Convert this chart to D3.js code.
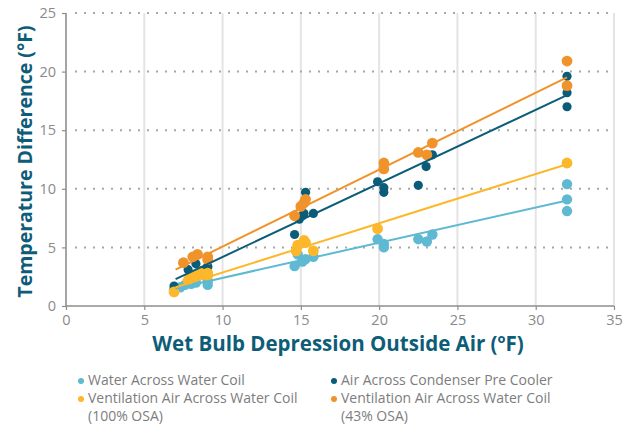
<!DOCTYPE html>
<html>
<head>
<meta charset="utf-8">
<script src="https://cdn.jsdelivr.net/npm/d3@7"></script>
<style>
  body { margin: 0; background: #fff; }
  svg { display: block; font-family: "Open Sans", "Lato", sans-serif; }
</style>
</head>
<body>
<svg id="chart" width="629" height="428"></svg>
<script>
// series names
const seriesNames = [
  "Water Across Water Coil",
  "Air Across Condenser Pre Cooler",
  "Ventilation Air Across Water Coil|(100% OSA)",
  "Ventilation Air Across Water Coil|(43% OSA)"
];
const seriesColors = ["#5fb9d2", "#0b5c79", "#fdb72a", "#f0932b"];

// measured points (x = wet bulb depression, y = temperature difference)
const waterX = [6.9, 7.3, 7.6, 8.0, 8.3, 9.05, 9.05, 14.6, 14.8, 15.1, 15.3, 15.8, 19.9, 20.3, 20.3, 22.5, 23.05, 23.4, 32, 32, 32];
const waterY = [1.4, 1.6, 1.8, 1.9, 2.0, 1.8, 2.1, 3.4, 4.4, 3.8, 4.0, 4.2, 5.7, 5.3, 5.0, 5.7, 5.5, 6.1, 10.4, 9.1, 8.1];

const condX = [6.9, 7.8, 8.3, 8.7, 9.05, 9.05, 14.6, 14.9, 15.1, 15.2, 15.3, 15.8, 19.9, 20.3, 20.3, 22.5, 23.0, 23.4, 32, 32, 32];
const condY = [1.7, 3.1, 3.6, 3.0, 3.4, 3.3, 6.1, 7.4, 7.7, 7.9, 9.7, 7.9, 10.6, 10.1, 9.7, 10.3, 11.9, 12.9, 19.6, 18.2, 17.0];

const vent100X = [6.9, 7.8, 7.9, 8.1, 8.3, 8.6, 9.05, 9.05, 14.7, 14.8, 15.2, 15.3, 15.8, 19.9, 32];
const vent100Y = [1.2, 2.2, 2.4, 2.5, 2.6, 2.8, 2.6, 2.8, 4.7, 5.2, 5.6, 5.4, 4.7, 6.6, 12.2];

const vent43X = [7.5, 8.1, 8.4, 9.05, 9.05, 14.6, 15.0, 15.2, 15.3, 20.3, 20.3, 22.5, 23.05, 23.4, 32, 32];
const vent43Y = [3.7, 4.2, 4.4, 4.2, 3.95, 7.7, 8.5, 8.8, 9.1, 12.2, 11.7, 13.1, 12.9, 13.9, 20.9, 18.8];

// trend lines (start and end values)
const trendX = [7, 32];
const waterTrend = [1.5, 9.0];
const condTrend = [2.3, 18.0];
const vent100Trend = [1.6, 12.1];
const vent43Trend = [3.1, 19.5];

const xTicks = [0, 5, 10, 15, 20, 25, 30, 35];
const yTicks = [0, 5, 10, 15, 20, 25];

const series = [
  { xs: waterX, ys: waterY, trend: waterTrend, color: seriesColors[0], r: 5.2 },
  { xs: condX, ys: condY, trend: condTrend, color: seriesColors[1], r: 4.6 },
  { xs: vent100X, ys: vent100Y, trend: vent100Trend, color: seriesColors[2], r: 5.4 },
  { xs: vent43X, ys: vent43Y, trend: vent43Trend, color: seriesColors[3], r: 5.4 }
];

const svg = d3.select("#chart");
const x = d3.scaleLinear().domain([0, 35]).range([66, 614]);
const y = d3.scaleLinear().domain([0, 25]).range([306, 13]);

const axisColor = "#8e8e8e";
const titleColor = "#0d5d79";
const labelColor = "#8a8a8a";

// vertical grid
svg.append("g").selectAll("line")
  .data(xTicks.slice(1))
  .enter().append("line")
  .attr("x1", d => x(d)).attr("x2", d => x(d))
  .attr("y1", y(25)).attr("y2", y(0))
  .attr("stroke", "#e4e4e4").attr("stroke-width", 2);

// horizontal dotted grid
svg.append("g").selectAll("line")
  .data(yTicks.slice(1))
  .enter().append("line")
  .attr("x1", x(0) + 9).attr("x2", x(35))
  .attr("y1", d => y(d)).attr("y2", d => y(d))
  .attr("stroke", "#a8a8a8").attr("stroke-width", 2)
  .attr("stroke-dasharray", "2,7");

// axes
const yAxis = svg.append("g")
  .attr("transform", `translate(${x(0)},0)`)
  .call(d3.axisLeft(y).tickValues(yTicks).tickSize(4).tickPadding(6));
const xAxis = svg.append("g")
  .attr("transform", `translate(0,${y(0)})`)
  .call(d3.axisBottom(x).tickValues(xTicks).tickSize(4).tickPadding(5));

[xAxis, yAxis].forEach(a => {
  a.select(".domain").attr("stroke", axisColor).attr("stroke-width", 1.6);
  a.selectAll(".tick line").attr("stroke", axisColor).attr("stroke-width", 1.2);
  a.selectAll(".tick text").attr("fill", labelColor)
    .style("font-size", "14.5px").style("font-family", "Open Sans, sans-serif");
});
xAxis.select(".domain").attr("d", `M${x(0)},0H${x(35)}`);
yAxis.select(".domain").attr("d", `M0,${y(0)}V${y(25)}`);

// points
series.forEach(s => {
  svg.append("g").selectAll("circle")
    .data(s.xs.map((v, i) => [v, s.ys[i]]))
    .enter().append("circle")
    .attr("cx", d => x(d[0]))
    .attr("cy", d => y(d[1]))
    .attr("r", s.r)
    .attr("fill", s.color);
});

// trend lines
const line = d3.line().x(d => x(d[0])).y(d => y(d[1]));
series.forEach(s => {
  svg.append("path")
    .datum(trendX.map((v, i) => [v, s.trend[i]]))
    .attr("d", line)
    .attr("fill", "none")
    .attr("stroke", s.color)
    .attr("stroke-width", 2);
});

// axis titles
svg.append("text")
  .attr("x", 338).attr("y", 351)
  .attr("text-anchor", "middle")
  .attr("fill", titleColor)
  .style("font-size", "20.5px").style("font-weight", "bold")
  .text("Wet Bulb Depression Outside Air (ºF)");

svg.append("text")
  .attr("transform", `translate(32,${(y(0) + y(25)) / 2 + 2}) rotate(-90)`)
  .attr("text-anchor", "middle")
  .attr("fill", titleColor)
  .style("font-size", "19.5px").style("font-weight", "bold")
  .text("Temperature Difference (°F)");

// legend
const legendPos = [[81, 380], [334, 380], [81, 398], [334, 398]];
const legend = svg.append("g").selectAll("g")
  .data(seriesNames)
  .enter().append("g")
  .attr("transform", (d, i) => `translate(${legendPos[i][0]},${legendPos[i][1]})`);

legend.append("circle")
  .attr("r", 3)
  .attr("cy", 1)
  .attr("fill", (d, i) => seriesColors[i]);

legend.append("text")
  .attr("x", 7)
  .attr("fill", "#7d7d7d")
  .style("font-size", "14px")
  .each(function (d) {
    const parts = d.split("|");
    d3.select(this).selectAll("tspan")
      .data(parts)
      .enter().append("tspan")
      .attr("x", 7)
      .attr("dy", (p, j) => j === 0 ? "0.35em" : "18px")
      .text(p => p);
  });
</script>
</body>
</html>
